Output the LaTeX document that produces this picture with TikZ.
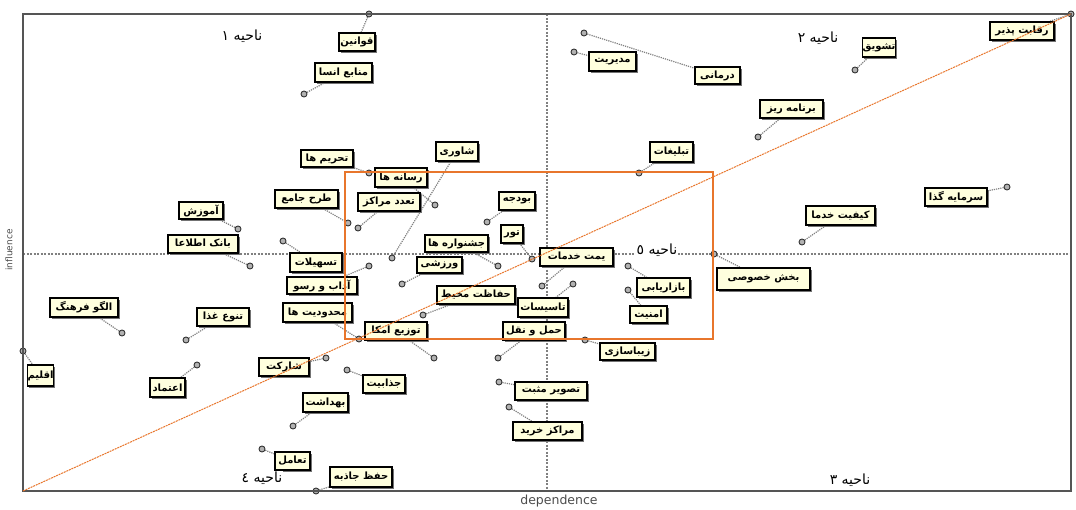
\documentclass[tikz,border=0pt]{standalone}
\usepackage{fontspec}
\usetikzlibrary{shadows,backgrounds}
\TeXXeTstate=1
\newfontfamily\arabicfont[Script=Arabic]{DejaVu Sans}
\newfontfamily\djv{DejaVu Sans}
\definecolor{cream}{RGB}{255,255,222}
\definecolor{orng}{RGB}{232,118,44}
\definecolor{frm}{RGB}{85,85,85}
\pgfdeclarelayer{dotlayer}
\pgfdeclarelayer{fore}
\pgfsetlayers{background,dotlayer,main,fore}
\tikzset{
  lbl/.style={draw=black, line width=1.1pt, fill=cream, inner sep=0.3pt,
    font=\arabicfont\bfseries\fontsize{10}{10}\selectfont,
    drop shadow={shadow xshift=1.6pt, shadow yshift=-1.6pt, fill=black!55, opacity=1}},
  dotn/.style={circle, draw=black!80, fill=black!30, line width=0.9pt, minimum size=6pt, inner sep=0pt},
  conn/.style={draw=black!50, line width=1.2pt, densely dotted},
  region/.style={font=\arabicfont\fontsize{14}{16}\selectfont, inner sep=1pt, fill=white},
  axislbl/.style={font=\djv\fontsize{12.5}{14}\selectfont, text=black!70, inner sep=0pt}
}
\newcommand{\lab}[8]{%
  \begin{pgfonlayer}{dotlayer}\node[dotn] (#1d) at (#6,#7) {};\end{pgfonlayer}
  \node[lbl, minimum width={#4-#2}, minimum height={#5-#3}] (#1) at ({(#2+#4)/2},{(#3+#5)/2}) {#8};
  \begin{pgfonlayer}{background}\draw[conn] (#1d) -- (#1);\end{pgfonlayer}}
\begin{document}
\begin{tikzpicture}[x=1pt,y=-1pt]
\useasboundingbox (0,0) rectangle (1076,509);
\begin{pgfonlayer}{background}
  \draw[black!50, line width=1.2pt, dash pattern=on 2pt off 1.5pt] (547,14) -- (547,491);
  \draw[black!50, line width=1.2pt, dash pattern=on 2pt off 1.5pt] (23,254) -- (1071,254);
\end{pgfonlayer}
\draw[frm, line width=1.4pt] (23,14) rectangle (1071,491);
% labels
\lab{qav}{339}{33}{375}{51}{369}{14}{\beginR قوانین\endR}
\lab{man}{315}{63}{372}{82}{304}{94}{\beginR منابع انسا\endR}
\lab{tah}{301}{150}{353}{167}{369}{173}{\beginR تحریم ها\endR}
\lab{ras}{375}{168}{427}{187}{435}{205}{\beginR رسانه ها\endR}
\lab{mos}{436}{142}{478}{161}{392}{258}{\beginR شاوری\endR}
\lab{tad}{358}{193}{420}{211}{358}{228}{\beginR تعدد مراکز\endR}
\lab{tar}{275}{190}{338}{208}{348}{223}{\beginR طرح جامع\endR}
\lab{amu}{179}{202}{223}{219}{238}{229}{\beginR آموزش\endR}
\lab{ban}{168}{235}{238}{253}{250}{266}{\beginR بانک اطلاعا\endR}
\lab{tas}{290}{253}{342}{272}{283}{241}{\beginR تسهیلات\endR}
\lab{ada}{287}{277}{357}{294}{369}{266}{\beginR آداب و رسو\endR}
\lab{mah}{283}{303}{352}{322}{359}{339}{\beginR محدودیت ها\endR}
\lab{var}{417}{257}{462}{273}{402}{284}{\beginR ورزشی\endR}
\lab{jas}{425}{235}{488}{252}{498}{266}{\beginR جشنواره ها\endR}
\lab{bud}{499}{192}{535}{210}{487}{222}{\beginR بودجه\endR}
\lab{tur}{501}{225}{523}{243}{532}{259}{\beginR تور\endR}
\lab{qey}{540}{248}{613}{266}{542}{286}{\beginR یمت خدمات\endR}
\lab{baz}{637}{278}{690}{297}{628}{266}{\beginR بازاریابی\endR}
\lab{amn}{630}{306}{667}{323}{628}{290}{\beginR امنیت\endR}
\lab{hef}{437}{286}{515}{304}{423}{315}{\beginR حفاظت محیط\endR}
\lab{tss}{518}{298}{568}{317}{573}{284}{\beginR تاسیسات\endR}
\lab{ham}{503}{322}{565}{340}{498}{358}{\beginR حمل و نقل\endR}
\lab{zib}{600}{343}{655}{360}{585}{340}{\beginR زیباسازی\endR}
\lab{tow}{365}{322}{427}{340}{434}{358}{\beginR توزیع امکا\endR}
\lab{msh}{259}{358}{309}{376}{326}{358}{\beginR شارکت\endR}
\lab{jaz}{363}{375}{405}{393}{347}{370}{\beginR جذابیت\endR}
\lab{beh}{303}{393}{348}{412}{293}{426}{\beginR بهداشت\endR}
\lab{taa}{275}{452}{310}{470}{262}{449}{\beginR تعامل\endR}
\lab{hfz}{330}{467}{392}{487}{316}{491}{\beginR حفظ جاذبه\endR}
\lab{tsv}{515}{382}{587}{400}{499}{382}{\beginR تصویر مثبت\endR}
\lab{mar}{513}{422}{582}{440}{509}{407}{\beginR مراکز خرید\endR}
\lab{tan}{197}{308}{249}{326}{186}{340}{\beginR تنوع غذا\endR}
\lab{eta}{150}{378}{185}{397}{197}{365}{\beginR اعتماد\endR}
\lab{olg}{50}{298}{118}{317}{122}{333}{\beginR الگو فرهنگ\endR}
\lab{aql}{28}{365}{53}{386}{23}{351}{\beginR اقلیم\endR}
\lab{mod}{589}{52}{636}{71}{574}{52}{\beginR مدیریت\endR}
\lab{dar}{695}{67}{740}{84}{584}{33}{\beginR درمانی\endR}
\lab{tsh}{863}{38}{895}{57}{855}{70}{\beginR تشویق\endR}
\lab{bar}{760}{100}{823}{118}{758}{137}{\beginR برنامه ریز\endR}
\lab{raq}{990}{22}{1054}{40}{1071}{14}{\beginR رقابت پذیر\endR}
\lab{tab}{650}{142}{693}{162}{639}{173}{\beginR تبلیغات\endR}
\lab{sar}{925}{188}{987}{206}{1007}{187}{\beginR سرمایه گذا\endR}
\lab{kei}{806}{206}{875}{225}{802}{242}{\beginR کیفیت خدما\endR}
\lab{bak}{717}{268}{810}{290}{714}{254}{\beginR بخش خصوصی\endR}
% region labels
\node[region] (r1) at (242,36) {\beginR ناحیه ۱\endR};
\node[region] (r2) at (818,38) {\beginR ناحیه ۲\endR};
\node[region] (r3) at (850,480) {\beginR ناحیه ۳\endR};
\node[region] (r4) at (262,478) {\beginR ناحیه ٤\endR};
\node[region] (r5) at (657,250) {\beginR ناحیه ٥\endR};
% axis labels
\node[axislbl] (dep) at (559,501) {dependence};
\node[axislbl, font=\djv\fontsize{9}{10}\selectfont, rotate=90] (inf) at (9,250) {influence};
% orange overlay
\begin{pgfonlayer}{fore}
  \draw[orng, line width=1pt, dash pattern=on 2pt off 0.8pt] (23,491) -- (1071,14);
  \draw[orng, line width=1.4pt] (345,172) rectangle (713,339);
\end{pgfonlayer}
\end{tikzpicture}
\end{document}
